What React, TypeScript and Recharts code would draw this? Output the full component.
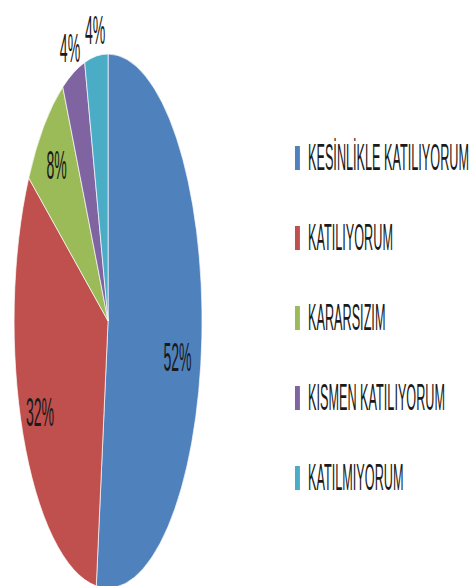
import { Cell, Legend, Pie, PieChart } from "recharts";

const categories = [
  "KESİNLİKLE KATILIYORUM",
  "KATILIYORUM",
  "KARARSIZIM",
  "KISMEN KATILIYORUM",
  "KATILMIYORUM",
];
const shares = [52, 32, 8, 4, 4];
const colors = ["#4F81BD", "#C0504D", "#9BBB59", "#8064A2", "#4BACC6"];

// the source picture is squeezed sideways, so draw wide and compress
const SQUEEZE = 0.352;
const W = Math.round(470 / SQUEEZE);
const H = 586;
const RADIAN = Math.PI / 180;
const FONT = "'Liberation Sans', Arial, sans-serif";

const data = categories.map((name, i) => ({ name, value: shares[i] }));

function renderLabel(props: any) {
  const { cx, cy, midAngle, outerRadius, value } = props;
  const cos = Math.cos(-midAngle * RADIAN);
  const sin = Math.sin(-midAngle * RADIAN);
  // small slices get their label outside the pie
  const k = value < 5 ? 1.1 : value > 50 ? 0.74 : 0.8;
  const x = cx + outerRadius * k * cos;
  const y = cy + outerRadius * k * sin + (value > 50 ? 24 : 0);
  return (
    <text
      x={x}
      y={y}
      fill="#1a1a1a"
      fontSize={40}
      fontFamily={FONT}
      textAnchor="middle"
      dominantBaseline="central"
    >
      {`${value}%`}
    </text>
  );
}

function LegendBox() {
  return (
    <div style={{ fontFamily: FONT, fontSize: 36, color: "#1a1a1a" }}>
      {categories.map((name, i) => (
        <div
          key={name}
          style={{ height: 80, display: "flex", alignItems: "center" }}
        >
          <span
            style={{
              display: "inline-block",
              width: 14,
              height: 24,
              background: colors[i],
              marginRight: 23,
            }}
          />
          <span style={{ whiteSpace: "nowrap" }}>{name}</span>
        </div>
      ))}
    </div>
  );
}

export default function App() {
  return (
    <div
      style={{
        position: "absolute",
        left: 0,
        top: 0,
        width: 470,
        height: H,
        overflow: "hidden",
        background: "#fff",
      }}
    >
      <div
        style={{
          width: W,
          height: H,
          transform: `scaleX(${SQUEEZE})`,
          transformOrigin: "0 0",
        }}
      >
        <PieChart width={W} height={H}>
          <Pie
            data={data}
            dataKey="value"
            nameKey="name"
            cx={302}
            cy={316}
            outerRadius={267}
            startAngle={90}
            endAngle={-270}
            stroke="#fff"
            strokeWidth={1}
            label={renderLabel}
            labelLine={false}
            isAnimationActive={false}
          >
            {data.map((d, i) => (
              <Cell key={d.name} fill={colors[i]} />
            ))}
          </Pie>
          <Legend
            content={() => <LegendBox />}
            wrapperStyle={{ left: 838, top: 118, width: 560 }}
          />
        </PieChart>
      </div>
    </div>
  );
}
